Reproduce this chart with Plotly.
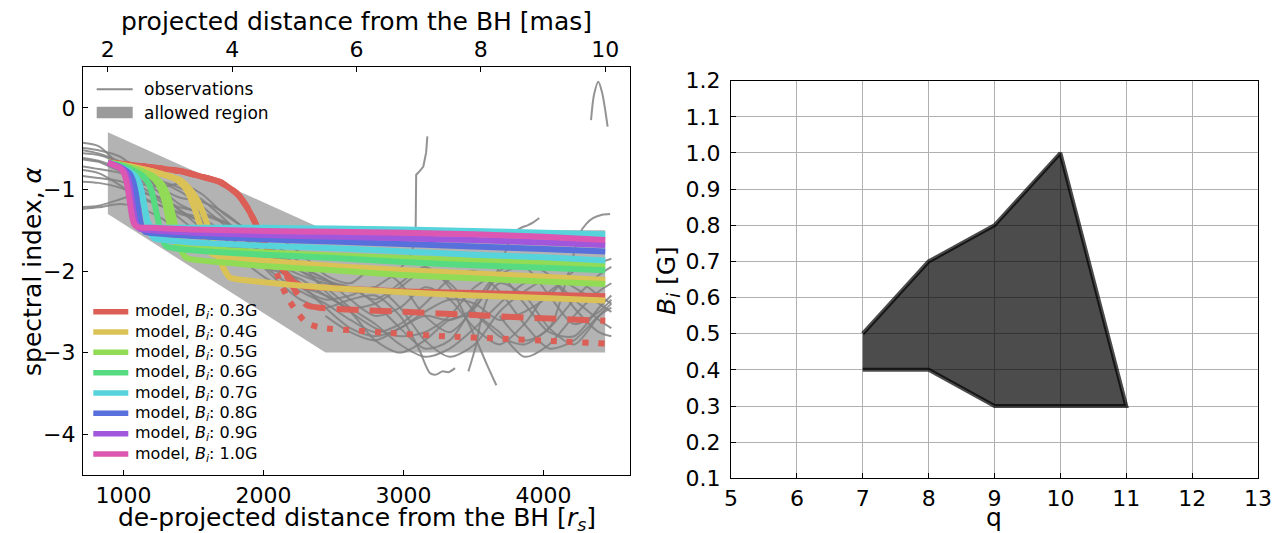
import plotly.graph_objects as go

W, H = 1284, 533
FONT = "DejaVu Sans"

# ---------------- left panel data ----------------
MAS_RANGE = [1.6, 10.4]
RS_PER_MAS = 444.1
RS_RANGE = [v * RS_PER_MAS for v in MAS_RANGE]

# allowed region (projected distance in mas, spectral index)
region_mas = [2.0, 5.5, 10.0, 10.0, 5.5, 2.0]
region_alpha = [-0.3, -1.5, -1.5, -3.0, -3.0, -1.3]

# observed spectral index profiles, projected distance in mas
obs_mas = [1.45, 1.85, 2.2, 2.5, 2.85, 3.15, 3.5, 3.9, 4.3, 4.7, 5.1, 5.5,
           5.9, 6.3, 6.7, 7.1, 7.5, 7.9, 8.3, 8.7, 9.1, 9.5, 9.9, 10.1]
obs1 = [-0.48, -0.52, -0.60, -0.78, -0.98, -1.10, -1.15, -1.30, -1.55, -1.80, -1.95, -2.10,
        -2.35, -2.55, -2.45, -2.20, -2.35, -2.70, -2.90, -2.65, -2.25, -2.10, -2.30, -2.40]
obs2 = [-0.42, -0.47, -0.72, -0.92, -0.97, -0.93, -1.05, -1.32, -1.50, -1.58, -1.78, -2.05,
        -2.15, -1.95, -2.15, -2.55, -2.75, -2.45, -2.05, -1.95, -2.30, -2.65, -2.50, -2.35]
obs3 = [-0.60, -0.65, -0.75, -0.85, -0.92, -1.02, -1.20, -1.45, -1.62, -1.70, -1.90, -2.25,
        -2.50, -2.70, -2.80, -2.75, -2.55, -2.20, -2.05, -2.40, -2.75, -2.80, -2.45, -2.30]
obs4 = [-0.70, -0.75, -0.80, -0.88, -1.05, -1.25, -1.40, -1.50, -1.65, -1.95, -2.20, -2.35,
        -2.30, -2.20, -2.45, -2.85, -3.05, -2.90, -2.50, -2.25, -2.10, -2.35, -2.60, -2.70]
obs5 = [-0.75, -0.80, -0.95, -1.10, -1.20, -1.28, -1.35, -1.55, -1.80, -2.05, -2.25, -2.40,
        -2.60, -2.75, -2.65, -2.40, -2.10, -2.00, -2.25, -2.65, -2.95, -2.85, -2.55, -2.45]
obs6 = [-0.82, -0.86, -0.90, -1.00, -1.15, -1.35, -1.55, -1.70, -1.80, -1.85, -2.00, -2.20,
        -2.45, -2.65, -2.90, -3.05, -2.95, -2.70, -2.40, -2.15, -2.05, -2.20, -2.40, -2.50]
obs7 = [-0.90, -0.92, -0.98, -1.08, -1.20, -1.30, -1.38, -1.62, -1.95, -2.15, -2.20, -2.30,
        -2.50, -2.85, -3.00, -2.85, -2.60, -2.55, -2.75, -3.05, -2.90, -2.55, -2.25, -2.15]
obs8 = [-1.22, -1.20, -1.12, -1.05, -1.10, -1.25, -1.48, -1.75, -1.90, -2.00, -2.10, -2.30,
        -2.45, -2.40, -2.20, -2.00, -2.15, -2.50, -2.80, -2.90, -2.70, -2.35, -2.05, -1.95]
obs9 = [-1.25, -1.22, -1.18, -1.22, -1.35, -1.50, -1.60, -1.68, -1.75, -1.90, -2.15, -2.45,
        -2.70, -2.80, -2.70, -2.50, -2.35, -2.40, -2.60, -2.50, -2.30, -2.00, -1.90, -1.85]
obs10 = [-0.55, -0.58, -0.68, -0.82, -0.90, -0.98, -1.12, -1.38, -1.68, -1.90, -2.05, -2.15,
         -2.20, -2.40, -2.70, -2.95, -2.85, -2.40, -2.00, -1.90, -2.05, -2.45, -2.75, -2.80]

# profiles with their own sampling
obsS_mas = [1.45, 1.85, 2.2, 2.5, 2.85, 3.15, 3.5, 3.9, 4.3, 4.7, 5.1, 5.5, 5.9, 6.3,
            6.6, 6.85, 6.95, 6.96, 7.0, 7.075, 7.12, 7.14]
obsS = [-0.62, -0.66, -0.78, -0.95, -1.12, -1.22, -1.28, -1.40, -1.60, -1.75, -1.95, -2.10,
        -2.25, -2.20, -2.05, -1.85, -1.62, -0.82, -0.79, -0.72, -0.55, -0.35]
obsC_mas = [1.45, 1.85, 2.2, 2.5, 2.85, 3.15, 3.5, 3.9, 4.3, 4.7, 5.1, 5.5, 5.9, 6.3,
            6.7, 7.1, 7.5, 7.9, 8.1, 8.25]
obsC = [-0.50, -0.56, -0.66, -0.80, -1.00, -1.18, -1.30, -1.42, -1.58, -1.80, -2.00, -2.12,
        -2.20, -2.35, -2.15, -1.95, -2.20, -2.80, -3.15, -3.40]
obsD_mas = [3.9, 4.3, 4.7, 5.1, 5.5, 5.9, 6.3, 6.7, 7.0, 7.18, 7.28, 7.38, 7.48, 7.585]
obsD = [-1.55, -1.80, -2.10, -2.35, -2.45, -2.35, -2.30, -2.55, -2.95, -3.25, -3.27, -3.23,
        -3.24, -3.19]
obsE_mas = [7.80, 7.93, 7.99, 8.1, 8.3, 8.7, 9.1, 9.5, 9.9, 10.1]
obsE = [-3.23, -2.89, -2.64, -2.35, -2.15, -2.30, -2.70, -2.90, -2.55, -2.40]
obsF_mas = [5.5, 5.9, 6.3, 6.7, 7.1, 7.5, 7.9, 8.3, 8.52, 8.65, 8.75, 8.85, 8.94]
obsF = [-2.55, -2.75, -2.85, -2.70, -2.55, -2.60, -2.45, -1.95, -1.54, -1.47, -1.44, -1.40, -1.35]
obsG_mas = [8.3, 8.7, 9.1, 9.4, 9.6, 9.7, 9.81, 9.95, 10.08]
obsG = [-2.55, -2.85, -2.70, -2.05, -1.53, -1.42, -1.35, -1.31, -1.30]
obsA_mas = [9.773, 9.821, 9.89, 9.95, 10.04]
obsA = [-0.15, 0.16, 0.32, 0.19, -0.23]

# model spectral index profiles, de-projected distance in r_s
m03_rs = [889, 1000, 1150, 1300, 1420, 1550, 1690, 1810, 1880, 1930, 2020, 2140, 2220, 2300,
          2400, 2600, 3000, 3500, 4000, 4442]
m03 = [-0.67, -0.69, -0.72, -0.75, -0.78, -0.84, -0.91, -1.05, -1.21, -1.37, -1.70, -1.99,
       -2.14, -2.19, -2.20, -2.22, -2.25, -2.27, -2.29, -2.31]
m03_dash_rs = [889, 1000, 1150, 1300, 1420, 1550, 1690, 1810, 1880, 1930, 2020, 2140, 2238,
               2310, 2400, 2700, 3000, 3500, 4000, 4442]
m03_dash = [-0.67, -0.69, -0.72, -0.75, -0.78, -0.84, -0.91, -1.05, -1.21, -1.37, -1.70, -1.99,
            -2.27, -2.42, -2.45, -2.48, -2.50, -2.54, -2.58, -2.61]
m03_dot_rs = [889, 1000, 1150, 1300, 1420, 1550, 1690, 1810, 1880, 1930, 2020, 2100, 2166,
              2238, 2309, 2428, 2666, 2904, 3300, 3700, 4100, 4442]
m03_dot = [-0.67, -0.69, -0.72, -0.75, -0.78, -0.84, -0.91, -1.05, -1.21, -1.37, -1.70, -2.05,
           -2.31, -2.50, -2.64, -2.70, -2.73, -2.76, -2.80, -2.83, -2.86, -2.89]
m04_rs = [889, 1050, 1250, 1400, 1460, 1510, 1560, 1610, 1660, 1710, 1760, 1900, 2200, 2500,
          3000, 3500, 4000, 4442]
m04 = [-0.67, -0.72, -0.80, -0.88, -0.97, -1.08, -1.25, -1.48, -1.72, -1.95, -2.08, -2.12,
       -2.17, -2.21, -2.26, -2.30, -2.33, -2.36]
m04b_rs = [889, 1050, 1250, 1380, 1440, 1490, 1540, 1580, 1630, 1800, 2200, 2600, 3000, 3500,
           4000, 4442]
m04b = [-0.67, -0.72, -0.80, -0.88, -0.98, -1.15, -1.40, -1.62, -1.79, -1.84, -1.90, -1.95,
        -1.99, -2.03, -2.07, -2.11]
m05_rs = [889, 1000, 1120, 1220, 1280, 1320, 1350, 1380, 1410, 1450, 1550, 1750, 2000, 2500,
          3000, 3500, 4000, 4442]
m05 = [-0.67, -0.71, -0.77, -0.85, -0.95, -1.10, -1.30, -1.52, -1.74, -1.84, -1.87, -1.90,
       -1.94, -1.99, -2.05, -2.09, -2.13, -2.16]
m05b_rs = [889, 1000, 1120, 1200, 1250, 1290, 1320, 1350, 1400, 1600, 2000, 2500, 3000, 3500,
           4000, 4442]
m05b = [-0.67, -0.71, -0.77, -0.84, -0.94, -1.12, -1.35, -1.58, -1.70, -1.73, -1.77, -1.81,
        -1.84, -1.87, -1.90, -1.93]
m06_rs = [889, 980, 1060, 1140, 1180, 1205, 1230, 1255, 1280, 1310, 1400, 1600, 2000, 2500,
          3000, 3500, 4000, 4442]
m06 = [-0.67, -0.71, -0.76, -0.84, -0.93, -1.05, -1.24, -1.44, -1.62, -1.70, -1.73, -1.76,
       -1.80, -1.84, -1.89, -1.93, -1.96, -1.99]
m07_rs = [889, 950, 1020, 1080, 1110, 1130, 1150, 1170, 1190, 1220, 1300, 1500, 2000, 2500,
          3000, 3500, 4000, 4442]
m07 = [-0.67, -0.71, -0.76, -0.83, -0.92, -1.04, -1.22, -1.40, -1.53, -1.60, -1.62, -1.65,
       -1.69, -1.72, -1.76, -1.80, -1.83, -1.87]
m07b_rs = [889, 950, 1020, 1080, 1110, 1130, 1150, 1170, 1200, 1300, 1600, 2000, 2500, 3000,
           3500, 4000, 4442]
m07b = [-0.67, -0.71, -0.76, -0.83, -0.92, -1.04, -1.22, -1.38, -1.46, -1.47, -1.47, -1.47,
        -1.48, -1.49, -1.51, -1.53, -1.55]
m08_rs = [889, 950, 1000, 1040, 1065, 1085, 1100, 1115, 1130, 1155, 1250, 1500, 2000, 2500,
          3000, 3500, 4000, 4442]
m08 = [-0.67, -0.71, -0.75, -0.80, -0.88, -1.02, -1.18, -1.34, -1.46, -1.52, -1.54, -1.57,
       -1.61, -1.64, -1.67, -1.70, -1.73, -1.76]
m09_rs = [889, 930, 975, 1010, 1030, 1045, 1060, 1075, 1090, 1115, 1200, 1500, 2000, 2500,
          3000, 3500, 4000, 4442]
m09 = [-0.67, -0.70, -0.73, -0.78, -0.85, -0.96, -1.13, -1.30, -1.42, -1.48, -1.50, -1.53,
       -1.56, -1.58, -1.60, -1.62, -1.65, -1.68]
m10_rs = [889, 930, 975, 1000, 1015, 1030, 1045, 1060, 1075, 1100, 1200, 1500, 2000, 2500,
          3000, 3500, 4000, 4442]
m10 = [-0.67, -0.70, -0.74, -0.79, -0.86, -0.98, -1.15, -1.32, -1.42, -1.46, -1.47, -1.49,
       -1.51, -1.52, -1.53, -1.55, -1.58, -1.62]

b_labels = ["0.3G", "0.4G", "0.5G", "0.6G", "0.7G", "0.8G", "0.9G", "1.0G"]
b_colors = ["#db5f57", "#dbc257", "#91db57", "#57db80", "#57d3db", "#5770db", "#a157db", "#db57b2"]

# ---------------- right panel data ----------------
q_vals = [7, 8, 9, 10, 11, 9, 8, 7]
bi_vals = [0.5, 0.7, 0.8, 1.0, 0.3, 0.3, 0.4, 0.4]

fig = go.Figure()

fig.add_trace(go.Scatter(x=region_mas, y=region_alpha, mode="lines", fill="toself",
                         fillcolor="rgba(128,128,128,0.6)", line=dict(width=0),
                         xaxis="x", yaxis="y", hoverinfo="skip"))

OBS_LINE = dict(color="rgba(128,128,128,0.85)", width=2, shape="spline", smoothing=0.8)
for ys in [obs1, obs2, obs3, obs4, obs5, obs6, obs7, obs8, obs9, obs10]:
    fig.add_trace(go.Scatter(x=obs_mas, y=ys, mode="lines", line=OBS_LINE,
                             xaxis="x", yaxis="y", hoverinfo="skip"))
for xs, ys, shape in [(obsS_mas, obsS, "linear"), (obsC_mas, obsC, "spline"),
                      (obsD_mas, obsD, "spline"), (obsE_mas, obsE, "spline"),
                      (obsF_mas, obsF, "spline"), (obsG_mas, obsG, "spline"),
                      (obsA_mas, obsA, "spline")]:
    ln = dict(OBS_LINE)
    ln["shape"] = shape
    fig.add_trace(go.Scatter(x=xs, y=ys, mode="lines", line=ln,
                             xaxis="x", yaxis="y", hoverinfo="skip"))

LW = 6
models = [
    (m03_dot_rs, m03_dot, b_colors[0], "6px,10px"),
    (m03_dash_rs, m03_dash, b_colors[0], "22px,11px"),
    (m03_rs, m03, b_colors[0], "solid"),
    (m04b_rs, m04b, b_colors[1], "solid"),
    (m04_rs, m04, b_colors[1], "solid"),
    (m05b_rs, m05b, b_colors[2], "solid"),
    (m05_rs, m05, b_colors[2], "solid"),
    (m06_rs, m06, b_colors[3], "solid"),
    (m07b_rs, m07b, b_colors[4], "solid"),
    (m07_rs, m07, b_colors[4], "solid"),
    (m08_rs, m08, b_colors[5], "solid"),
    (m09_rs, m09, b_colors[6], "solid"),
    (m10_rs, m10, b_colors[7], "solid"),
]
for xs, ys, col, dash in models:
    fig.add_trace(go.Scatter(x=xs, y=ys, mode="lines",
                             line=dict(color=col, width=LW, dash=dash, shape="spline",
                                       smoothing=0.6),
                             xaxis="x2", yaxis="y", hoverinfo="skip"))

fig.add_trace(go.Scatter(x=q_vals, y=bi_vals, mode="lines", fill="toself",
                         fillcolor="rgba(0,0,0,0.7)",
                         line=dict(color="rgba(0,0,0,0.7)", width=4),
                         xaxis="x3", yaxis="y2", hoverinfo="skip"))


def px(x):
    return x / W


def py(y):
    return 1 - y / H


TICKFONT = dict(family=FONT, size=22, color="black")
common = dict(showline=True, linecolor="black", linewidth=1.2, ticks="inside", ticklen=5,
              tickwidth=1.2, tickcolor="black", zeroline=False, tickfont=TICKFONT,
              automargin=False)

fig.update_layout(
    width=W, height=H, margin=dict(l=0, r=0, t=0, b=0, autoexpand=False),
    paper_bgcolor="white", plot_bgcolor="white", showlegend=False,
    font=dict(family=FONT, color="black"),
    xaxis=dict(domain=[px(83), px(630)], range=MAS_RANGE, side="top", anchor="y",
               tickvals=[2, 4, 6, 8, 10], showgrid=False, **common),
    xaxis2=dict(overlaying="x", side="bottom", anchor="y", range=RS_RANGE,
                tickvals=[1000, 2000, 3000, 4000], showgrid=False, **common),
    yaxis=dict(domain=[py(475), py(67)], range=[-4.5, 0.5], anchor="x",
               tickvals=[-4, -3, -2, -1, 0], showgrid=False, mirror=True,
               ticklabelstandoff=2, **common),
    xaxis3=dict(domain=[px(731), px(1258)], range=[5, 13], anchor="y2", dtick=1,
                showgrid=True, gridcolor="#b0b0b0", gridwidth=1, mirror=True, **common),
    yaxis2=dict(domain=[py(478.3), py(80.7)], range=[0.1, 1.2], anchor="x3", dtick=0.1,
                tickformat=".1f", showgrid=True, gridcolor="#b0b0b0", gridwidth=1,
                mirror=True, ticklabelstandoff=5, **common),
)

ann = []
LABEL = dict(family=FONT, size=25, color="black")
ann.append(dict(text="projected distance from the BH [mas]", x=px(356.5), y=py(21),
                font=LABEL))
ann.append(dict(text="de-projected distance from the BH [<i>r<sub>s</sub></i>]",
                x=px(356.5), y=py(519), font=LABEL))
ann.append(dict(text="spectral index, <i>α</i>", x=px(32), y=py(271), textangle=-90,
                font=LABEL))
ann.append(dict(text="q", x=px(994), y=py(517), font=LABEL))
ann.append(dict(text="<i>B<sub>i</sub></i> [G]", x=px(668), y=py(280), textangle=-90,
                font=LABEL))

shapes = []
# upper legend
LEG1 = dict(family=FONT, size=17, color="black")
shapes.append(dict(type="line", xref="paper", yref="paper", x0=px(96.7), x1=px(132.7),
                   y0=py(89.3), y1=py(89.3), line=dict(color="#8c8c8c", width=2)))
shapes.append(dict(type="rect", xref="paper", yref="paper", x0=px(96.7), x1=px(132.7),
                   y0=py(118.3), y1=py(106.7), fillcolor="#9b9b9b", line=dict(width=0)))
ann.append(dict(text="observations", x=px(142), y=py(89.3), xanchor="left", font=LEG1))
ann.append(dict(text="allowed region", x=px(142), y=py(112.5), xanchor="left", font=LEG1))

# lower legend
LEG2 = dict(family=FONT, size=16, color="black")
for k, (lab, col) in enumerate(zip(b_labels, b_colors)):
    yy = 311.7 + 20.33 * k
    shapes.append(dict(type="line", xref="paper", yref="paper", x0=px(93.3), x1=px(128.3),
                       y0=py(yy), y1=py(yy), line=dict(color=col, width=5.5)))
    ann.append(dict(text="model, <i>B<sub>i</sub></i>: " + lab, x=px(133), y=py(yy),
                    xanchor="left", font=LEG2))

for a in ann:
    a.setdefault("xref", "paper")
    a.setdefault("yref", "paper")
    a.setdefault("showarrow", False)
    a.setdefault("yanchor", "middle")
    a.setdefault("xanchor", "center")

fig.update_layout(annotations=ann, shapes=shapes)
fig.write_html("out.html")
